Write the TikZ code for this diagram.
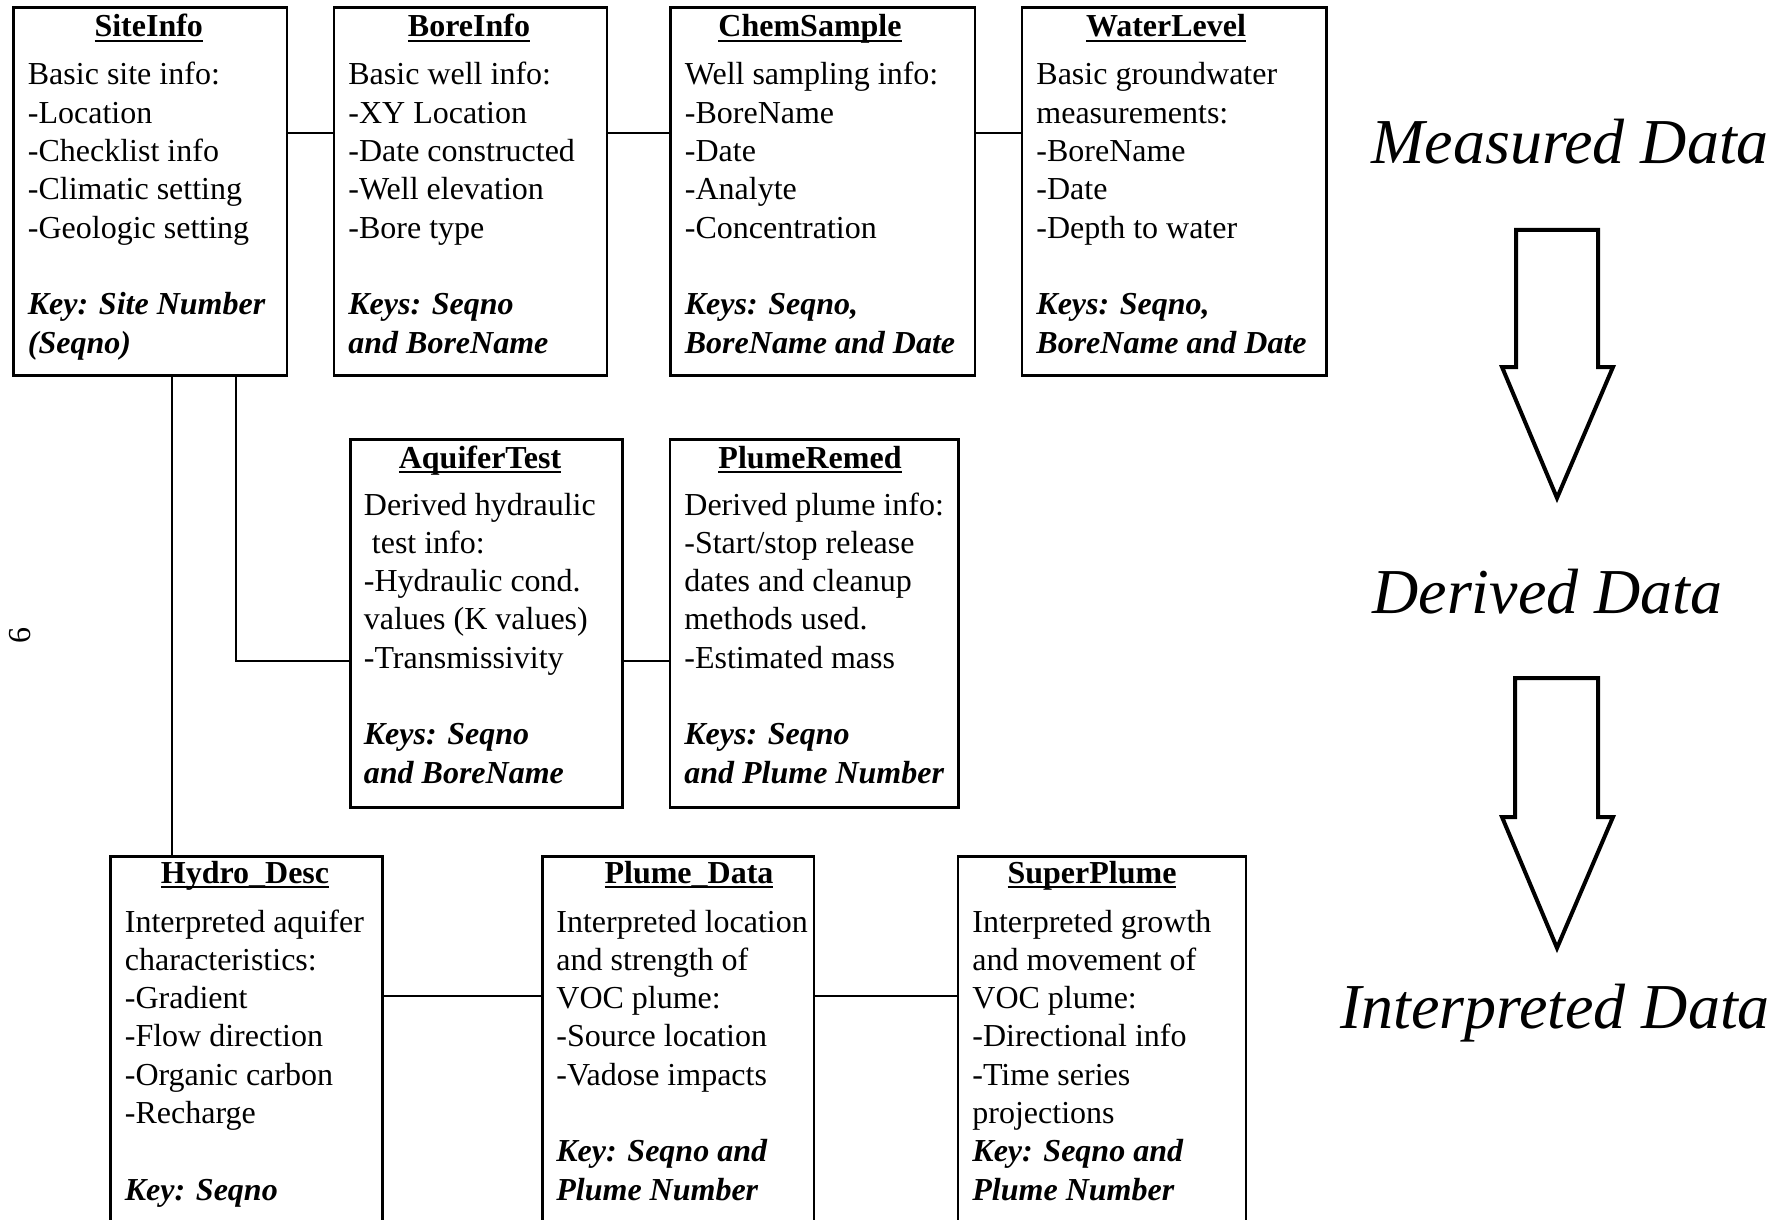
\documentclass[tikz,border=0pt]{standalone}
\usepackage{fontspec}
\setmainfont{Liberation Serif}
\usetikzlibrary{calc}
\newcommand\ttlul[1]{\setbox0\hbox{\bfseries #1}\rlap{\rule[-2.3pt]{\wd0}{0.8pt}}\box0}
\newcommand\boxlines[1]{\begin{tabular}[t]{@{}l@{}}#1\end{tabular}}
\newcommand\kk[1]{{\bfseries\itshape #1}}
\begin{document}
\begin{tikzpicture}[x=0.5pt,y=-0.5pt,
  tbl/.style={draw, line width=1.3pt, rectangle, inner sep=0pt, anchor=north west},
  ttl/.style={font=\fontsize{16}{19.15}\selectfont, inner sep=0pt, anchor=base},
  bdy/.style={font=\fontsize{16}{19.15}\selectfont, inner sep=0pt, anchor=base west},
  link/.style={line width=1pt},
  bigarrow/.style={draw, line width=2pt, line join=miter},
  level/.style={font=\fontsize{32}{38}\selectfont\itshape, inner sep=0pt, anchor=base west}]
\useasboundingbox (0,0) rectangle (1785,1220);
\clip (0,0) rectangle (1785,1220);

% ---------- top row ----------
\node[tbl, minimum width=136.75pt, minimum height=184pt] (site) at (12,6) {};
\node[ttl] (siteT) at (148.75,37) {\ttlul{SiteInfo}};
\node[bdy] (siteB) at (27.5,85) {\boxlines{Basic site info:\\-Location\\-Checklist info\\-Climatic setting\\-Geologic setting\\ \\ \kk{Key: Site Number}\\ \kk{(Seqno)}}};

\node[tbl, minimum width=136.5pt, minimum height=184pt] (bore) at (332.5,6) {};
\node[ttl] (boreT) at (469,37) {\ttlul{BoreInfo}};
\node[bdy] (boreB) at (348,85) {\boxlines{Basic well info:\\-XY Location\\-Date constructed\\-Well elevation\\-Bore type\\ \\ \kk{Keys: Seqno}\\ \kk{and BoreName}}};

\node[tbl, minimum width=152.25pt, minimum height=184pt] (chem) at (669,6) {};
\node[ttl] (chemT) at (810,37) {\ttlul{ChemSample}};
\node[bdy] (chemB) at (684.5,85) {\boxlines{Well sampling info:\\-BoreName\\-Date\\-Analyte\\-Concentration\\ \\ \kk{Keys: Seqno,}\\ \kk{BoreName and Date}}};

\node[tbl, minimum width=152.25pt, minimum height=184pt] (water) at (1020.5,6) {};
\node[ttl] (waterT) at (1166,37) {\ttlul{WaterLevel}};
\node[bdy] (waterB) at (1036,85) {\boxlines{Basic groundwater\\measurements:\\-BoreName\\-Date\\-Depth to water\\ \\ \kk{Keys: Seqno,}\\ \kk{BoreName and Date}}};

% ---------- middle row ----------
\node[tbl, minimum width=136pt, minimum height=184pt] (aq) at (349,438) {};
\node[ttl] (aqT) at (480,468) {\ttlul{AquiferTest}};
\node[bdy] (aqB) at (363.5,515) {\boxlines{Derived hydraulic\\\ test info:\\-Hydraulic cond.\\values (K values)\\-Transmissivity\\ \\ \kk{Keys: Seqno}\\ \kk{and BoreName}}};

\node[tbl, minimum width=144.25pt, minimum height=184pt] (prem) at (668.5,438) {};
\node[ttl] (premT) at (810,468) {\ttlul{PlumeRemed}};
\node[bdy] (premB) at (684,515) {\boxlines{Derived plume info:\\-Start/stop release\\dates and cleanup\\methods used.\\-Estimated mass\\ \\ \kk{Keys: Seqno}\\ \kk{and Plume Number}}};

% ---------- bottom row ----------
\node[tbl, minimum width=136pt, minimum height=202.5pt] (hydro) at (109,855) {};
\node[ttl] (hydroT) at (245,883) {\ttlul{Hydro\_Desc}};
\node[bdy] (hydroB) at (124.5,932) {\boxlines{Interpreted aquifer\\characteristics:\\-Gradient\\-Flow direction\\-Organic carbon\\-Recharge\\ \\ \kk{Key: Seqno}}};

\node[tbl, minimum width=135.75pt, minimum height=202.5pt] (pdata) at (541,855) {};
\node[ttl] (pdataT) at (689,883) {\ttlul{Plume\_Data}};
\node[bdy] (pdataB) at (556,932) {\boxlines{Interpreted location\\and strength of\\VOC plume:\\-Source location\\-Vadose impacts\\ \\ \kk{Key: Seqno and}\\ \kk{Plume Number}}};

\node[tbl, minimum width=144pt, minimum height=202.5pt] (super) at (956.5,855) {};
\node[ttl] (superT) at (1092,883) {\ttlul{SuperPlume}};
\node[bdy] (superB) at (972,932) {\boxlines{Interpreted growth\\and movement of\\VOC plume:\\-Directional info\\-Time series\\projections\\ \kk{Key: Seqno and}\\ \kk{Plume Number}}};

% ---------- connectors ----------
\coordinate (r1) at (0,133);
\coordinate (r2) at (0,661);
\coordinate (r3) at (0,996);
\coordinate (v1) at (171.5,0);
\coordinate (v2) at (236,0);
\draw[link] (site.east |- r1) -- (bore.west |- r1);
\draw[link] (bore.east |- r1) -- (chem.west |- r1);
\draw[link] (chem.east |- r1) -- (water.west |- r1);
\draw[link] (site.south -| v2) |- (aq.west |- r2);
\draw[link] (aq.east |- r2) -- (prem.west |- r2);
\draw[link] (site.south -| v1) -- (hydro.north -| v1);
\draw[link] (hydro.east |- r3) -- (pdata.west |- r3);
\draw[link] (pdata.east |- r3) -- (super.west |- r3);

% ---------- levels ----------
\node[level] (meas) at (1371,163) {Measured Data};
\node[level] (der) at (1372,613) {Derived Data};
\node[level] (interp) at (1340,1028) {Interpreted Data};
\draw[bigarrow] (1516,230) -- (1598,230) -- (1598,367) -- (1613,367) -- (1557,498) -- (1502,367) -- (1516,367) -- cycle;
\draw[bigarrow] (1515,678) -- (1598,678) -- (1598,817) -- (1613,817) -- (1557,948) -- (1502,817) -- (1515,817) -- cycle;

% ---------- page number ----------
\node[rotate=90, font=\fontsize{16}{19}\selectfont, inner sep=0pt] (pg) at (20,635) {6};
\end{tikzpicture}
\end{document}
